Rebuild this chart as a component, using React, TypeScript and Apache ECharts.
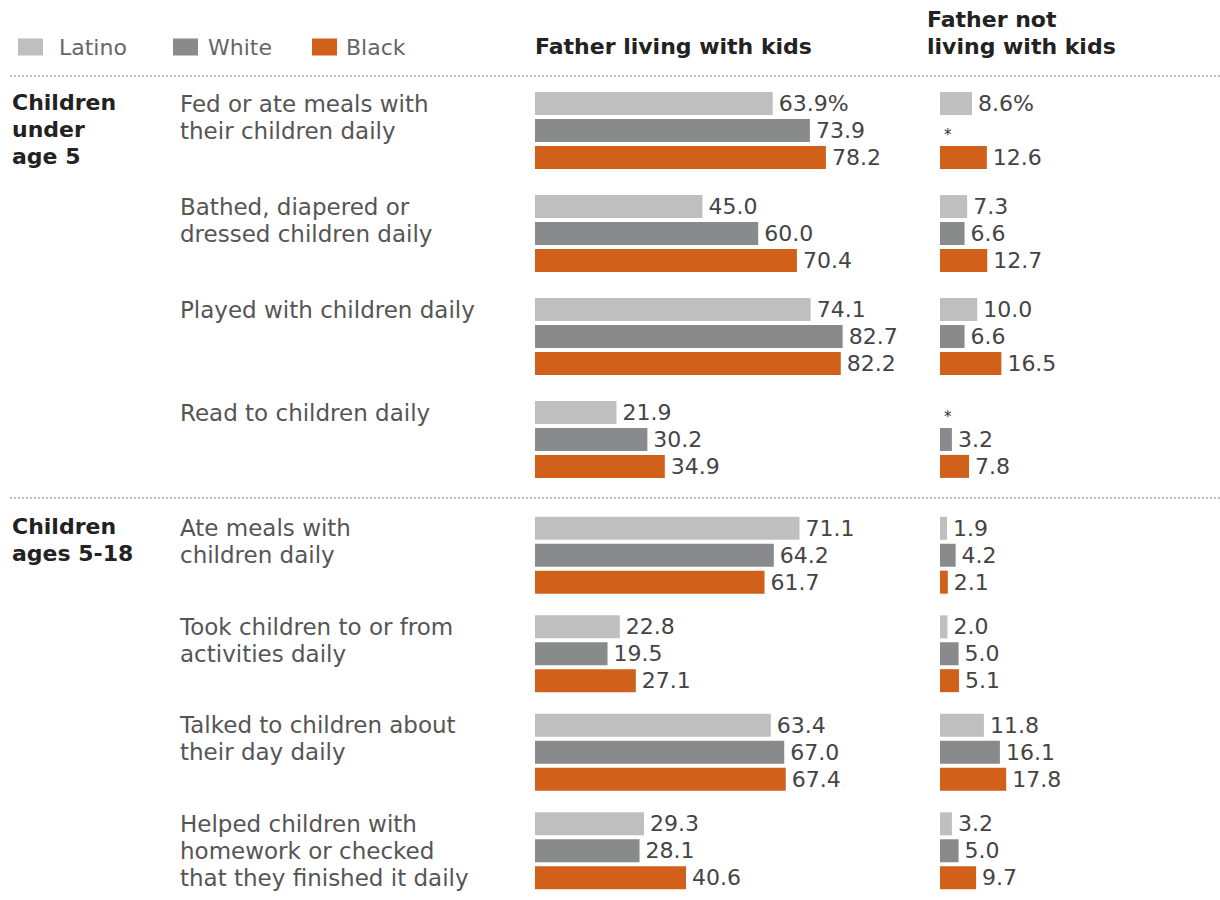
import React, { useEffect, useRef } from "react";
import * as echarts from "echarts";

// ---------- DATA ----------
const groups = ["Latino", "White", "Black"];
const colors = ["#bfbfbf", "#898a8c", "#d1601a"];

const sectionTop = "Children\nunder\nage 5";
const sectionBottom = "Children\nages 5-18";

const catsTop = [
  "Fed or ate meals with\ntheir children daily",
  "Bathed, diapered or\ndressed children daily",
  "Played with children daily",
  "Read to children daily",
];
const catsBottom = [
  "Ate meals with\nchildren daily",
  "Took children to or from\nactivities daily",
  "Talked to children about\ntheir day daily",
  "Helped children with\nhomework or checked\nthat they finished it daily",
];

// Father living with kids (top section: children under age 5)
const livingTopLatino = [63.9, 45.0, 74.1, 21.9];
const livingTopWhite = [73.9, 60.0, 82.7, 30.2];
const livingTopBlack = [78.2, 70.4, 82.2, 34.9];
// Father not living with kids (top section)
const notTopLatino = [8.6, 7.3, 10.0, null];
const notTopWhite = [null, 6.6, 6.6, 3.2];
const notTopBlack = [12.6, 12.7, 16.5, 7.8];

// Bottom section: children ages 5-18
const livingBotLatino = [71.1, 22.8, 63.4, 29.3];
const livingBotWhite = [64.2, 19.5, 67.0, 28.1];
const livingBotBlack = [61.7, 27.1, 67.4, 40.6];
const notBotLatino = [1.9, 2.0, 11.8, 3.2];
const notBotWhite = [4.2, 5.0, 16.1, 5.0];
const notBotBlack = [2.1, 5.1, 17.8, 9.7];

const headerLiving = "Father living with kids";
const headerNot = "Father not\nliving with kids";

// ---------- HELPERS ----------
const FONT = "DejaVu Sans";

function pad3(s: string) {
  const l = s.split("\n");
  while (l.length < 3) l.push(" ");
  return l.join("\n");
}

function toItems(arr: (number | null)[], pct: boolean) {
  return arr.map((v, i) => {
    if (v === null) {
      return {
        value: 0,
        label: { formatter: "*", fontSize: 15, offset: [-2, 4], color: "#333" },
      };
    }
    const txt = v.toFixed(1) + (pct && i === 0 ? "%" : "");
    return { value: v, label: { formatter: txt } };
  });
}

export default function App() {
  const ref = useRef<HTMLDivElement>(null);

  useEffect(() => {
    if (!ref.current) return;
    const chart = echarts.init(ref.current, null, { renderer: "svg" });

    const grids = [
      { left: 535, top: 79, width: 372, height: 412 },
      { left: 940, top: 79, width: 74.4, height: 412 },
      { left: 535, top: 506, width: 372, height: 405 },
      { left: 940, top: 506, width: 74.4, height: 405 },
    ];
    const xMax = [100, 20, 100, 20];

    const xAxis = grids.map((_, i) => ({
      type: "value",
      gridIndex: i,
      min: 0,
      max: xMax[i],
      show: false,
    }));

    const yAxis = grids.map((_, i) => {
      const cats = i < 2 ? catsTop : catsBottom;
      const showLabel = i === 0 || i === 2;
      return {
        type: "category",
        gridIndex: i,
        inverse: true,
        data: cats,
        axisLine: { show: false },
        axisTick: { show: false },
        axisLabel: {
          show: showLabel,
          align: "left",
          margin: 535 - 180,
          formatter: (s: string) => pad3(s),
          fontFamily: FONT,
          fontSize: 23,
          lineHeight: 27,
          color: "#555",
        },
      };
    });

    const dataSets: (number | null)[][][] = [
      [livingTopLatino, livingTopWhite, livingTopBlack],
      [notTopLatino, notTopWhite, notTopBlack],
      [livingBotLatino, livingBotWhite, livingBotBlack],
      [notBotLatino, notBotWhite, notBotBlack],
    ];

    const series: any[] = [];
    dataSets.forEach((set, gi) => {
      set.forEach((arr, si) => {
        series.push({
          type: "bar",
          name: groups[si],
          xAxisIndex: gi,
          yAxisIndex: gi,
          barWidth: 23,
          barGap: "17%",
          itemStyle: { color: colors[si] },
          label: {
            show: true,
            position: "right",
            distance: 6,
            fontFamily: FONT,
            fontSize: 22,
            color: "#444",
          },
          data: toItems(arr, gi < 2 && si === 0),
        });
      });
    });

    const legendLefts = [18, 173, 312];
    const legendPads = [11, 5, 4];
    const legend = groups.map((g, i) => ({
      data: [g],
      left: legendLefts[i],
      top: 36,
      padding: 0,
      itemWidth: 25,
      itemHeight: 17,
      itemGap: 0,
      icon: "rect",
      selectedMode: false,
      textStyle: {
        fontFamily: FONT,
        fontSize: 22,
        color: "#666",
        padding: [0, 0, 0, legendPads[i]],
      },
    }));

    const dotted = (y: number) => ({
      type: "line",
      shape: { x1: 10, y1: y, x2: 1220, y2: y },
      style: { stroke: "#aaa", lineWidth: 1.5, lineDash: [2, 2] },
    });

    chart.setOption({
      animation: false,
      backgroundColor: "#fff",
      legend,
      grid: grids,
      xAxis,
      yAxis,
      series,
      graphic: [
        dotted(76),
        dotted(498),
        {
          type: "text",
          left: 535,
          top: 35,
          style: {
            text: headerLiving,
            fontFamily: FONT,
            fontWeight: "bold",
            fontSize: 22,
            fill: "#222",
          },
        },
        {
          type: "text",
          left: 927,
          top: 6,
          style: {
            text: headerNot,
            fontFamily: FONT,
            fontWeight: "bold",
            fontSize: 22,
            lineHeight: 27,
            fill: "#222",
          },
        },
        {
          type: "text",
          left: 12,
          top: 89,
          style: {
            text: sectionTop,
            fontFamily: FONT,
            fontWeight: "bold",
            fontSize: 22,
            lineHeight: 27,
            fill: "#222",
          },
        },
        {
          type: "text",
          left: 12,
          top: 513,
          style: {
            text: sectionBottom,
            fontFamily: FONT,
            fontWeight: "bold",
            fontSize: 22,
            lineHeight: 27,
            fill: "#222",
          },
        },
      ],
    });

    return () => chart.dispose();
  }, []);

  return (
    <div
      ref={ref}
      style={{ position: "absolute", left: 0, top: 0, width: 1220, height: 900 }}
    />
  );
}
